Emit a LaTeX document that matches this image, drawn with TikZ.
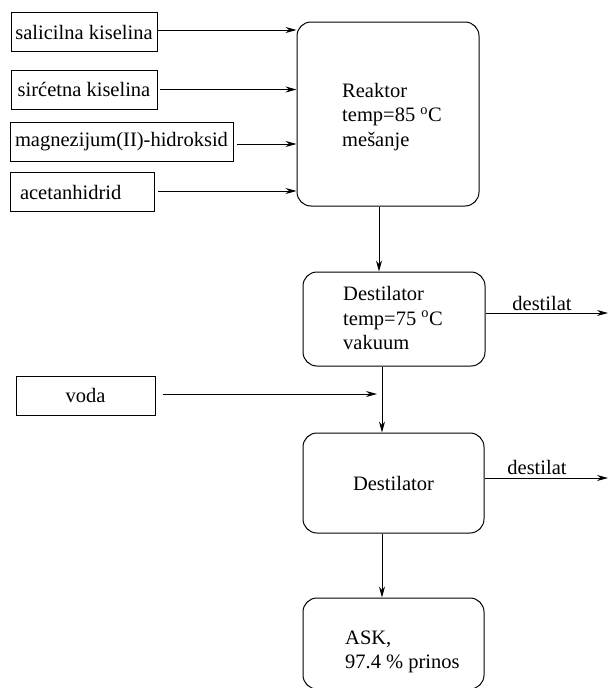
\documentclass[tikz,border=0pt]{standalone}
\usepackage{fontspec}
\setmainfont{Liberation Serif}
\newfontfamily\diagfont{Liberation Serif}
\usetikzlibrary{arrows.meta}
\begin{document}
\begin{tikzpicture}[x=1pt,y=-1pt,
  every node/.style={font=\diagfont\fontsize{20.5}{24.5}\selectfont},
  inbox/.style={draw, line width=0.9pt, rectangle, inner sep=0pt, minimum height=39pt},
  rbox/.style={draw, line width=1pt, rounded corners=14pt, inner sep=0pt, align=left},
  arr/.style={-{Stealth[length=11pt,width=6pt]}, line width=0.9pt},
  lbl/.style={inner sep=0pt}]
\useasboundingbox (0,0) rectangle (610,688);
% input boxes
\node[inbox, minimum width=146pt] (s1) at (84,32) {salicilna kiselina};
\node[inbox, minimum width=146pt] (s2) at (84,89.5) {sirćetna kiselina};
\node[inbox, minimum width=223pt] (s3) at (121.5,142) {magnezijum(II)-hidroksid};
\node[inbox, minimum width=144pt, text width=124pt, inner xsep=10pt, align=left] (s4) at (82,192) {acetanhidrid};
\node[inbox, minimum width=139pt] (voda) at (85.5,395.5) {voda};
% process boxes
\node[rbox, minimum width=182pt, minimum height=184pt] (reak) at (388,114) {};
\node[lbl, anchor=west, align=left] (reakt) at (342,117) {Reaktor\\temp{=}85 \textsuperscript{o}C\\mešanje};
\node[rbox, minimum width=182pt, minimum height=94pt] (d1) at (394,319) {};
\node[lbl, anchor=west, align=left] (d1t) at (343,318) {Destilator\\temp{=}75 \textsuperscript{o}C\\vakuum};
\node[rbox, minimum width=181pt, minimum height=100pt] (d2) at (393.5,483) {Destilator};
\node[rbox, minimum width=181pt, minimum height=91pt] (ask) at (393.5,643.5) {};
\node[lbl, anchor=west, align=left] (askt) at (345,652) {ASK,\\97.4 \% prinos};
% labels and free ends
\node[lbl] (dl1) at (542,303) {destilat};
\node[lbl] (dl2) at (537,467) {destilat};
\coordinate (o1) at (608,313);
\coordinate (o2) at (608,478);
\coordinate (col) at (382,0);
% connectors
\draw[arr] ([yshift=2pt]s1.east) -- ([yshift=2pt]s1.east -| reak.west);
\draw[arr, shorten <=3pt] (s2.east) -- (s2.east -| reak.west);
\draw[arr, shorten <=4pt] ([yshift=-2pt]s3.east) -- ([yshift=-2pt]s3.east -| reak.west);
\draw[arr, shorten <=4pt] ([yshift=1pt]s4.east) -- ([yshift=1pt]s4.east -| reak.west);
\draw[arr] ([xshift=-9pt]reak.south) -- ([xshift=-9pt]reak.south |- d1.north);
\draw[arr] ([yshift=6pt]d1.east) -- (o1);
\draw[arr] (d1.south -| col) -- (d2.north -| col);
\draw[arr, shorten <=8pt, shorten >=5pt] ([yshift=1.5pt]voda.east) -- ([yshift=1.5pt]voda.east -| col);
\draw[arr] ([yshift=5pt]d2.east) -- (o2);
\draw[arr] (d2.south -| col) -- (ask.north -| col);
\end{tikzpicture}
\end{document}
